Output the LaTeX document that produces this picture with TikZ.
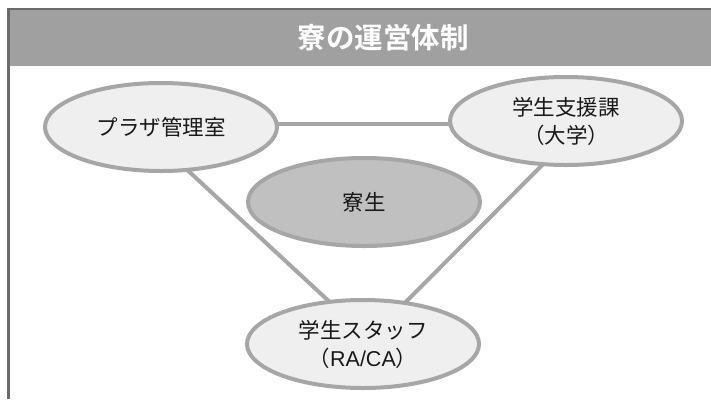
\documentclass[tikz,border=0pt]{standalone}
\usepackage{fontspec}
\usetikzlibrary{shapes.geometric}
\setmainfont{Noto Sans CJK JP}
\newfontfamily\jpb{Noto Sans CJK JP}[BoldFont={* Bold}]
\newfontfamily\latinf{Liberation Sans}
\definecolor{ellgray}{HTML}{A6A6A6}
\definecolor{ellfill}{HTML}{EFEFEF}
\definecolor{ryofill}{HTML}{C0C0C0}
\definecolor{hdr}{HTML}{A0A0A0}
\definecolor{frm}{HTML}{6A6A6A}
\begin{document}
\begin{tikzpicture}[x=1pt,y=-1pt,
  bub/.style={ellipse,draw=ellgray,line width=4pt,fill=ellfill,minimum width=232pt,minimum height=88pt,inner sep=0pt,align=center,font=\fontsize{21.5}{28}\selectfont,text=black!90},
  conn/.style={draw=ellgray,line width=4pt}]
\useasboundingbox (0,0) rectangle (711,399);
\fill[white] (0,0) rectangle (711,399);
\fill[hdr] (9,9) rectangle (711,66);
\draw[frm,line width=2.5pt] (8.5,399) -- (8.5,9) -- (711,9);
\node[font=\jpb\bfseries\fontsize{28.5}{30}\selectfont,text=white] (title) at (383,38) {寮の運営体制};
\coordinate (l1) at (141,127);
\coordinate (l2) at (375,344);
\coordinate (r1) at (586,121);
\coordinate (r2) at (364,344);
\coordinate (h1) at (161,124);
\coordinate (h2) at (566,124);
\draw[conn] (l1) -- (l2);
\draw[conn] (r1) -- (r2);
\draw[conn] (h1) -- (h2);
\node[bub] (plaza) at (161,127) {プラザ管理室};
\node[bub] (shien) at (566,121) {学生支援課\\（大学）};
\node[bub,fill=ryofill] (ryo) at (364,202) {寮生};
\node[bub] (staff) at (363,344) {学生スタッフ\\（{\latinf RA/CA}）};
\end{tikzpicture}
\end{document}
